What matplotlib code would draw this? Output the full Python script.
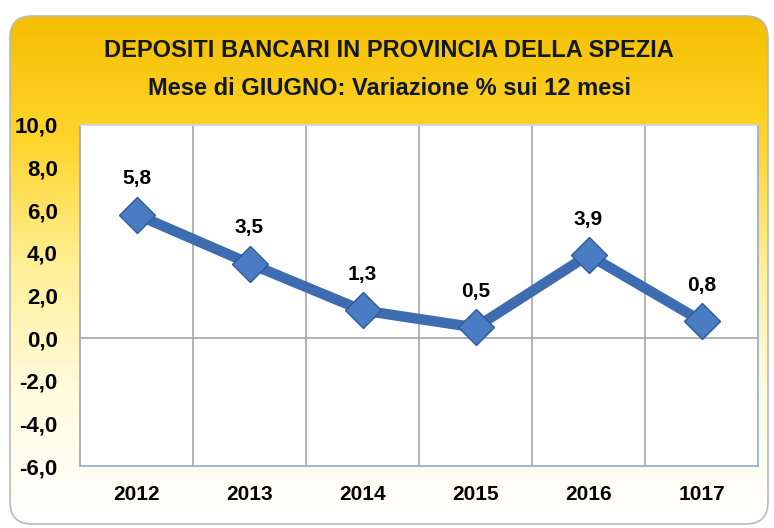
import numpy as np
import matplotlib.pyplot as plt
from matplotlib.patches import FancyBboxPatch
from matplotlib.colors import LinearSegmentedColormap
from matplotlib.ticker import FuncFormatter

anni = ["2012", "2013", "2014", "2015", "2016", "1017"]
variazione = [5.8, 3.5, 1.3, 0.5, 3.9, 0.8]
y_ticks = [-6, -4, -2, 0, 2, 4, 6, 8, 10]

plt.rcParams['font.family'] = ['Liberation Sans Narrow', 'Liberation Sans', 'DejaVu Sans']

fig = plt.figure(figsize=(7.74, 5.28), dpi=100)
fig.patch.set_facecolor('white')

# sfondo arrotondato con sfumatura giallo -> bianco
bg = fig.add_axes([0, 0, 1, 1], zorder=0)
bg.set_xlim(0, 774)
bg.set_ylim(528, 0)
bg.axis('off')
box = FancyBboxPatch((10, 16), 758, 508, boxstyle="round,pad=0,rounding_size=22",
                     facecolor='none', edgecolor='#b9b9b9', linewidth=1.2, zorder=3)
bg.add_patch(box)
cmap = LinearSegmentedColormap.from_list('giallo', ['#f5bf00', '#ffd52e', '#fff09a', '#fffce0', '#ffffff'])
grad = np.linspace(0, 1, 256).reshape(-1, 1)
img = bg.imshow(grad, cmap=cmap, extent=(10, 768, 524, 16), aspect='auto', zorder=1)
img.set_clip_path(box)

fig.text(0.503, 0.905, "DEPOSITI BANCARI IN PROVINCIA DELLA SPEZIA", ha='center', va='center',
         fontsize=17, fontweight='bold', color='#111827')
fig.text(0.503, 0.833, "Mese di GIUGNO: Variazione % sui 12 mesi", ha='center', va='center',
         fontsize=17, fontweight='bold', color='#111827')

ax = fig.add_axes([80 / 774, 1 - 466 / 528, 678 / 774, 341 / 528], zorder=2)
ax.set_facecolor('white')
x = np.arange(len(anni))
ax.set_xlim(-0.5, len(anni) - 0.5)
ax.set_ylim(-6, 10)

for b in np.arange(0.5, len(anni) - 0.5):
    ax.axvline(b, color='#a6a6a6', linewidth=1.2, zorder=1)
ax.axhline(0, color='#a6a6a6', linewidth=1.2, zorder=1)

ax.plot(x, variazione, color='#3d6cb0', linewidth=7.5, solid_capstyle='round',
        marker='D', markersize=18, markerfacecolor='#4a7cc4', markeredgecolor='#2f5a99',
        markeredgewidth=1, zorder=3)

for xi, v in zip(x, variazione):
    ax.annotate(f"{v:.1f}".replace('.', ','), (xi, v), xytext=(0, 19), textcoords='offset points',
                ha='center', va='bottom', fontsize=15, fontweight='bold', color='black')

ax.set_xticks(x)
ax.set_xticklabels(anni)
ax.set_yticks(y_ticks)
ax.yaxis.set_major_formatter(FuncFormatter(lambda v, p: f"{v:.1f}".replace('.', ',')))
ax.tick_params(axis='both', length=0, colors='black')
ax.tick_params(axis='x', pad=14, labelsize=15)
ax.tick_params(axis='y', pad=16, labelsize=16)
for lab in ax.get_xticklabels() + ax.get_yticklabels():
    lab.set_fontweight('bold')

ax.spines['left'].set_color('#a6a6a6')
ax.spines['top'].set_color('#c9d5ea')
for side in ['bottom', 'right']:
    ax.spines[side].set_color('#8eaad6')
for s in ax.spines.values():
    s.set_linewidth(1.2)

fig.savefig('out.png', dpi=100)
